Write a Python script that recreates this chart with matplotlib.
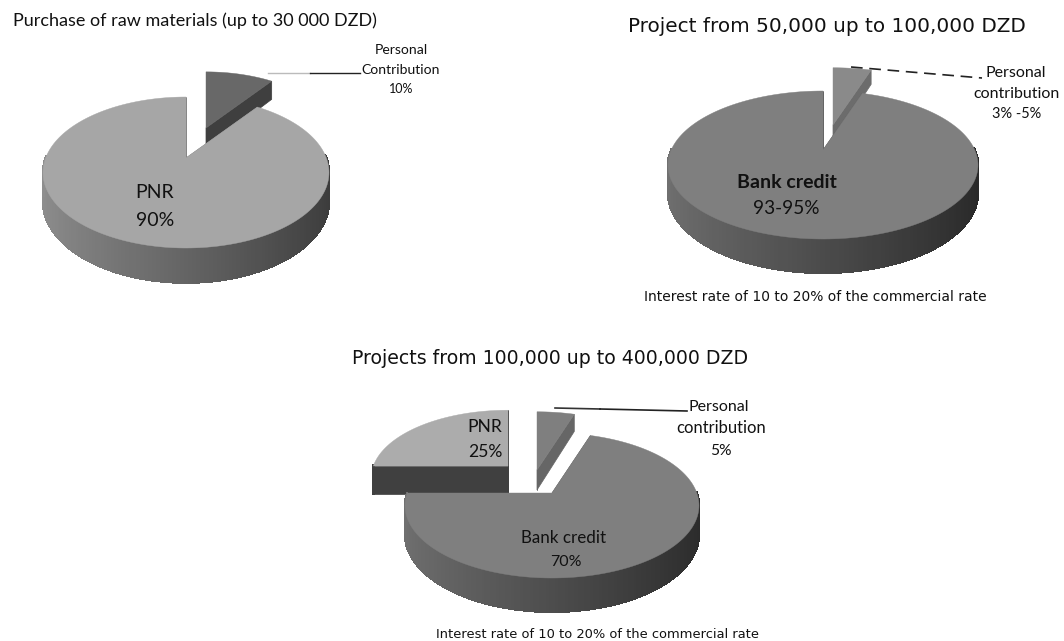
import matplotlib

matplotlib.use("Agg")
import matplotlib.pyplot as plt
import numpy as np

plt.rcParams["font.family"] = ["Lato", "DejaVu Sans"]

# slice shares, listed clockwise from 12 o'clock
PIE1_NAMES = ["Personal Contribution", "PNR"]
PIE1_VALUES = [10, 90]
PIE2_NAMES = ["Personal contribution", "Bank credit"]
PIE2_VALUES = [5, 95]
PIE3_NAMES = ["Personal contribution", "Bank credit", "PNR"]
PIE3_VALUES = [5, 70, 25]

TITLES = [
    "Purchase of raw materials (up to 30 000 DZD)",
    "Project from 50,000 up to 100,000 DZD",
    "Projects from 100,000 up to 400,000 DZD",
]
FOOTER = "Interest rate of 10 to 20% of the commercial rate"


def make_projection(apex, rx, up, down):
    # unit circle -> screen, the near side of the pie comes out bigger
    k = (down - up) / (down + up)
    b = up * (1 + k)
    a = rx * np.sqrt(1 - k**2)

    def project(x, y, off=(0, 0), scale=1.0, depth=0.0):
        w = 1 + k * y
        return (
            apex[0] + off[0] + scale * a * x / w,
            apex[1] + off[1] - scale * b * y / w + depth / w,
        )

    return project


def draw_slice(ax, project, start, stop, top, face, wall_left, wall_right, off=(0, 0), scale=1.0, depth=28.0):
    # start/stop in degrees, going clockwise from start down to stop
    theta = np.radians(np.linspace(start, stop, 240))
    xs, ys = np.cos(theta), np.sin(theta)

    # cut faces first, the top hides the ones turned away from us
    for x_end, y_end in ((xs[0], ys[0]), (xs[-1], ys[-1])):
        x0, y0 = project(0.0, 0.0, off, scale)
        x1, y1 = project(x_end, y_end, off, scale)
        x2, y2 = project(x_end, y_end, off, scale, depth)
        x3, y3 = project(0.0, 0.0, off, scale, depth)
        ax.fill([x0, x1, x2, x3], [y0, y1, y2, y3], color=face, lw=0.5)

    # outer wall, shaded left to right
    left = np.array(matplotlib.colors.to_rgb(wall_left))
    right = np.array(matplotlib.colors.to_rgb(wall_right))
    for i in range(len(theta) - 1):
        if ys[i] > 0.02 and ys[i + 1] > 0.02:
            continue
        x_t, y_t = project(xs[i : i + 2], ys[i : i + 2], off, scale)
        x_b, y_b = project(xs[i : i + 2], ys[i : i + 2], off, scale, depth)
        t = (xs[i] + 1) / 2
        ax.fill(
            [x_t[0], x_t[1], x_b[1], x_b[0]],
            [y_t[0], y_t[1], y_b[1], y_b[0]],
            color=left + (right - left) * t,
            lw=1.0,
            antialiased=False,
        )

    x_top, y_top = project(np.r_[0.0, xs], np.r_[0.0, ys], off, scale)
    ax.fill(x_top, y_top, color=top, lw=0.3)


def slice_angles(values):
    edges = 90 - np.cumsum([0] + list(values)) * 3.6
    return list(zip(edges[:-1], edges[1:]))


fig = plt.figure(figsize=(10.64, 6.41), dpi=100)
ax = fig.add_axes([0, 0, 1, 1])
ax.set_xlim(0, 1064)
ax.set_ylim(641, 0)
ax.axis("off")

# pie 1
proj = make_projection((186, 158), 143, 61, 90)
(a0, a1), (b0, b1) = slice_angles(PIE1_VALUES)
draw_slice(ax, proj, a0, a1, "#686868", "#3f3f3f", "#555555", "#3f3f3f", off=(20, -30), scale=0.92, depth=21)
draw_slice(ax, proj, b0, b1, "#a6a6a6", "#808080", "#8e8e8e", "#3a3a3a", depth=28)

# pie 2
proj = make_projection((823, 150), 155, 59, 89)
(a0, a1), (b0, b1) = slice_angles(PIE2_VALUES)
draw_slice(ax, proj, a0, a1, "#8a8a8a", "#6c6c6c", "#6c6c6c", "#6c6c6c", off=(10, -25), scale=0.97, depth=17)
draw_slice(ax, proj, b0, b1, "#7f7f7f", "#5f5f5f", "#707070", "#272727", depth=27)

# pie 3
proj = make_projection((552, 493), 147, 60, 85)
(a0, a1), (b0, b1), (c0, c1) = slice_angles(PIE3_VALUES)
draw_slice(ax, proj, a0, a1, "#7f7f7f", "#666666", "#666666", "#666666", off=(-15, -23), scale=0.97, depth=20)
draw_slice(ax, proj, c0, c1, "#acacac", "#404040", "#404040", "#404040", off=(-44, -27), scale=0.93, depth=28)
draw_slice(ax, proj, b0, b1, "#7f7f7f", "#5f5f5f", "#707070", "#2a2a2a", depth=28)

# leader lines
ax.plot([268, 310], [73, 73], color="#bbbbbb", lw=1)
ax.plot([310, 360], [73, 73], color="#222222", lw=1)
ax.plot([851, 982], [67, 78], color="#222222", lw=1.2, dashes=(7, 4))
ax.plot([555, 600], [408, 409], color="#333333", lw=1.2)
ax.plot([600, 687], [409, 411], color="#222222", lw=1.2)


def label(x, y, text, size, **kw):
    ax.text(x, y, text, fontsize=size * 0.72, ha="center", va="center", color="#111111", **kw)


# titles
ax.text(13, 21, TITLES[0], fontsize=13, ha="left", va="center", color="#111111")
ax.text(827, 26, TITLES[1], fontsize=14.4, ha="center", va="center", color="#111111", family="DejaVu Sans")
ax.text(550, 358, TITLES[2], fontsize=13.55, ha="center", va="center", color="#111111", family="DejaVu Sans")

# pie 1 labels
label(401, 50, "Personal", 14)
label(401, 70, "Contribution", 14)
label(401, 89, f"{PIE1_VALUES[0]}%", 12.5)
label(155, 192, PIE1_NAMES[1], 19.5)
label(155, 220, f"{PIE1_VALUES[1]}%", 19.5)

# pie 2 labels
label(1016, 73, "Personal", 16)
label(1017, 94, "contribution", 16)
label(1017, 114, "3% -5%", 14.5)
label(787, 183, PIE2_NAMES[1], 19.5, fontweight="bold")
label(786, 208, "93-95%", 19)
label(815, 297, FOOTER, 13.9, family="DejaVu Sans")

# pie 3 labels
label(719, 407, "Personal", 16)
label(721, 428, "contribution", 16.5)
label(721, 451, f"{PIE3_VALUES[0]}%", 15.5)
label(564, 538, PIE3_NAMES[1], 17)
label(566, 562, f"{PIE3_VALUES[1]}%", 16)
label(485, 427, PIE3_NAMES[2], 17.5)
label(485, 452, f"{PIE3_VALUES[2]}%", 17.5)
label(598, 634, FOOTER, 13, family="DejaVu Sans")

fig.savefig("out.png", dpi=100)
